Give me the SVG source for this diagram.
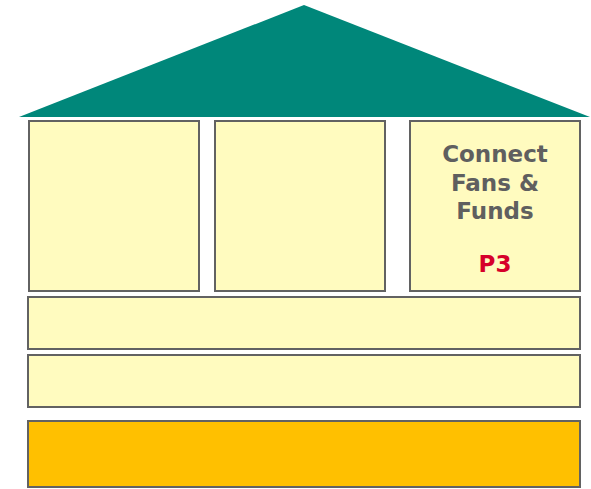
<svg xmlns="http://www.w3.org/2000/svg" width="591" height="489" viewBox="0 0 591 489">
  <style>
    .box { fill: #fffbbf; stroke: #626262; stroke-width: 2; }
    .base { fill: #ffc000; stroke: #626262; stroke-width: 2; }
    .label { font-family: "DejaVu Sans", Verdana, sans-serif; font-weight: bold; font-size: 23px; text-anchor: middle; fill: #5f5f5f; }
    .code { fill: #d6002a; }
  </style>
  <rect width="591" height="489" fill="#ffffff"/>
  <g id="roof">
    <polygon points="304,5 590,117 19,117" fill="#00877a"/>
  </g>
  <g id="pillar1">
    <rect class="box" x="29" y="121" width="170" height="170"/>
  </g>
  <g id="pillar2">
    <rect class="box" x="215" y="121" width="170" height="170"/>
  </g>
  <g id="pillar3">
    <rect class="box" x="410" y="121" width="170" height="170"/>
    <text class="label" x="495" y="162">Connect</text>
    <text class="label" x="495" y="191">Fans &amp;</text>
    <text class="label" x="495" y="219">Funds</text>
    <text class="label code" x="495" y="272">P3</text>
  </g>
  <g id="beam1">
    <rect class="box" x="28" y="297" width="552" height="52"/>
  </g>
  <g id="beam2">
    <rect class="box" x="28" y="355" width="552" height="52"/>
  </g>
  <g id="foundation">
    <rect class="base" x="28" y="421" width="552" height="66"/>
  </g>
  <g id="connectors"/>
</svg>
